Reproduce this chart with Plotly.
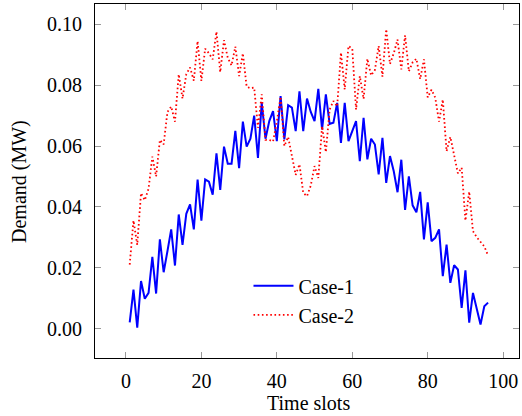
import plotly.graph_objects as go

time_slots = list(range(1, 97))

case1 = [0.0020, 0.0128, 0.0003, 0.0156, 0.0098, 0.0117, 0.0236, 0.0115, 0.0293, 0.0185,
         0.0254, 0.0326, 0.0207, 0.0375, 0.0275, 0.0377, 0.0408, 0.0326, 0.0490, 0.0355,
         0.0490, 0.0483, 0.0440, 0.0576, 0.0456, 0.0598, 0.0542, 0.0542, 0.0650, 0.0527,
         0.0680, 0.0598, 0.0624, 0.0700, 0.0561, 0.0742, 0.0624, 0.0682, 0.0715, 0.0616,
         0.0764, 0.0622, 0.0734, 0.0726, 0.0649, 0.0780, 0.0649, 0.0756, 0.0712, 0.0682,
         0.0788, 0.0655, 0.0770, 0.0673, 0.0677, 0.0742, 0.0610, 0.0742, 0.0616, 0.0649,
         0.0682, 0.0550, 0.0693, 0.0556, 0.0624, 0.0605, 0.0507, 0.0627, 0.0479, 0.0567,
         0.0517, 0.0448, 0.0555, 0.0390, 0.0500, 0.0405, 0.0382, 0.0449, 0.0293, 0.0415,
         0.0287, 0.0298, 0.0326, 0.0172, 0.0276, 0.0150, 0.0208, 0.0194, 0.0068, 0.0191,
         0.0019, 0.0117, 0.0068, 0.0013, 0.0073, 0.0085]

case2 = [0.0210, 0.0355, 0.0275, 0.0445, 0.0422, 0.0460, 0.0565, 0.0500, 0.0620, 0.0605,
         0.0712, 0.0730, 0.0680, 0.0836, 0.0756, 0.0836, 0.0858, 0.0815, 0.0945, 0.0814,
         0.0920, 0.0905, 0.0885, 0.0976, 0.0843, 0.0948, 0.0890, 0.0865, 0.0927, 0.0830,
         0.0905, 0.0795, 0.0790, 0.0792, 0.0660, 0.0770, 0.0620, 0.0620, 0.0615, 0.0680,
         0.0762, 0.0600, 0.0630, 0.0565, 0.0505, 0.0540, 0.0446, 0.0435, 0.0470, 0.0534,
         0.0495, 0.0665, 0.0580, 0.0720, 0.0748, 0.0730, 0.0907, 0.0786, 0.0929, 0.0920,
         0.0720, 0.0830, 0.0755, 0.0887, 0.0832, 0.0850, 0.0929, 0.0828, 0.0984, 0.0870,
         0.0905, 0.0950, 0.0852, 0.0964, 0.0846, 0.0875, 0.0887, 0.0820, 0.0885, 0.0760,
         0.0785, 0.0759, 0.0680, 0.0753, 0.0583, 0.0630, 0.0570, 0.0510, 0.0529, 0.0355,
         0.0450, 0.0320, 0.0300, 0.0285, 0.0270, 0.0240]

x_ticks = [0, 20, 40, 60, 80, 100]
y_ticks = [0.00, 0.02, 0.04, 0.06, 0.08, 0.10]
x_title = "Time slots"
y_title = "Demand (MW)"

FONT = "Liberation Serif"
W, H = 522, 416
ML, MR, MT, MB = 95, 3, 4, 58

fig = go.Figure()
fig.add_trace(go.Scatter(x=time_slots, y=case1, mode="lines", name="Case-1",
                         line=dict(color="#0000ff", width=2)))
fig.add_trace(go.Scatter(x=time_slots, y=case2, mode="lines", name="Case-2",
                         line=dict(color="#ff0000", width=1.8, dash="1.6px,2.6px")))

axis_common = dict(showgrid=False, zeroline=False, showline=True, linecolor="black",
                   linewidth=1, mirror="allticks", ticks="inside", ticklen=6,
                   tickcolor="#999999", tickwidth=1, automargin=False,
                   tickfont=dict(family=FONT, size=20, color="black"))

fig.update_xaxes(range=[-8.2, 104.2], tickvals=x_ticks,
                 ticktext=[str(v) for v in x_ticks], ticklabelstandoff=5,
                 **axis_common)
fig.update_yaxes(range=[-0.0097, 0.1067], tickvals=y_ticks,
                 ticktext=[f"{v:.2f}" for v in y_ticks], ticklabelstandoff=8,
                 **axis_common)

plot_w = W - ML - MR
plot_h = H - MT - MB
fig.add_annotation(text=x_title, xref="paper", yref="paper",
                   x=(308 - ML) / plot_w, y=-(403 - (H - MB)) / plot_h,
                   xanchor="center", yanchor="middle", showarrow=False,
                   font=dict(family=FONT, size=20, color="black"))
fig.add_annotation(text=y_title, xref="paper", yref="paper",
                   x=-(ML - 20) / plot_w, y=((H - MB) - 182) / plot_h,
                   xanchor="center", yanchor="middle", showarrow=False, textangle=-90,
                   font=dict(family=FONT, size=20, color="black"))

fig.update_layout(
    width=W, height=H,
    margin=dict(l=ML, r=MR, t=MT, b=MB, pad=0),
    paper_bgcolor="white", plot_bgcolor="white",
    showlegend=True,
    legend=dict(x=0.362, y=0.259, xanchor="left", yanchor="top",
                bgcolor="rgba(255,255,255,0)", borderwidth=0,
                font=dict(family=FONT, size=20, color="black"),
                itemwidth=40, tracegroupgap=0),
)

post = ("document.body.style.margin='0';document.body.style.padding='0';"
        "document.body.style.overflow='hidden';"
        "var d=document.getElementById('{plot_id}');"
        "d.style.position='fixed';d.style.left='0px';d.style.top='0px';")

fig.write_html("out.html", post_script=post, config={"displayModeBar": False})
